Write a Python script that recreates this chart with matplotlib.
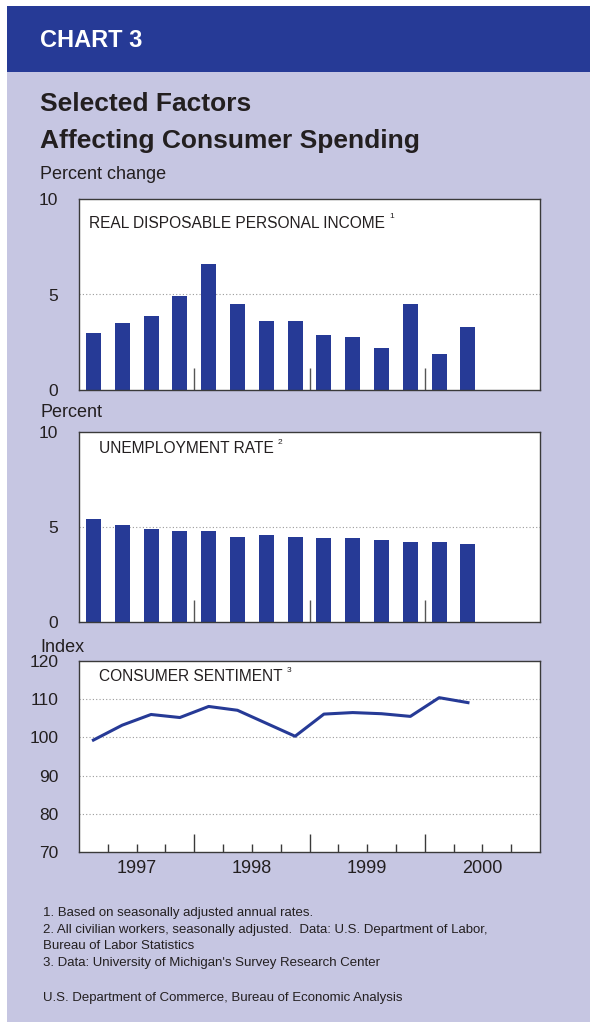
import matplotlib
matplotlib.use('Agg')
import matplotlib.pyplot as plt
from matplotlib import font_manager
from matplotlib.patches import Rectangle
import numpy as np

# Quarterly data, 1997:I - 2000:II
QUARTERS = ["97Q1", "97Q2", "97Q3", "97Q4", "98Q1", "98Q2", "98Q3", "98Q4",
            "99Q1", "99Q2", "99Q3", "99Q4", "00Q1", "00Q2"]
INCOME = [3.0, 3.5, 3.9, 4.9, 6.6, 4.5, 3.6, 3.6, 2.9, 2.8, 2.2, 4.5, 1.9, 3.3]
UNEMP = [5.4, 5.1, 4.9, 4.8, 4.8, 4.5, 4.6, 4.5, 4.4, 4.4, 4.3, 4.2, 4.2, 4.1]
SENTIMENT = [99.3, 103.2, 106.0, 105.2, 108.1, 107.1, 103.7, 100.3,
             106.1, 106.5, 106.2, 105.5, 110.4, 109.1]
YEARS = ["1997", "1998", "1999", "2000"]

BLUE = '#263A96'
LAVENDER = '#C6C6E2'
TEXT = '#231F20'

names = {f.name for f in font_manager.fontManager.ttflist}
NARROW = 'Liberation Sans Narrow' if 'Liberation Sans Narrow' in names else 'Liberation Sans'
plt.rcParams['font.family'] = [NARROW, 'DejaVu Sans']

W, H = 590, 1022
fig = plt.figure(figsize=(W / 100, H / 100), dpi=100)
fig.patch.set_facecolor('white')


def fx(x):
    return x / W


def fy(y):
    return 1 - y / H


# background panel and header band
fig.patches.append(Rectangle((fx(7), 0), 1 - fx(7), fy(6), transform=fig.transFigure,
                             facecolor=LAVENDER, edgecolor='none', zorder=-2))
fig.patches.append(Rectangle((fx(7), fy(72.5)), 1 - fx(7), fy(6) - fy(72.5),
                             transform=fig.transFigure, facecolor=BLUE,
                             edgecolor='none', zorder=-1))

fig.text(fx(40), fy(47), "CHART 3", color='white', fontsize=17, fontweight='bold',
         va='baseline')
fig.text(fx(40), fy(111), "Selected Factors", color=TEXT, fontsize=19,
         fontweight='bold', va='baseline')
fig.text(fx(40), fy(148), "Affecting Consumer Spending", color=TEXT, fontsize=19,
         fontweight='bold', va='baseline')

x = np.arange(len(QUARTERS)) + 0.5


def make_axes(top, bottom):
    ax = fig.add_axes([fx(79), fy(bottom), fx(540) - fx(79), fy(top) - fy(bottom)])
    ax.set_facecolor('white')
    for s in ax.spines.values():
        s.set_color('#3a3a3a')
        s.set_linewidth(1.0)
    ax.set_xlim(0, 16)
    ax.tick_params(axis='y', length=0, pad=15, labelsize=12.5, labelcolor=TEXT)
    return ax


def grid(ax, levels):
    for v in levels:
        ax.axhline(v, color='#9a9a9a', lw=0.8, ls=(0, (1, 2)), zorder=0.5)


def panel_label(xpix, ybase, text, sup):
    t = fig.text(fx(xpix), fy(ybase), text, fontsize=11.2, color=TEXT, va='baseline')
    fig.canvas.draw()
    bb = t.get_window_extent()
    fig.text(bb.x1 / W + fx(4), fy(ybase - 9), sup, fontsize=6, color=TEXT,
             va='baseline')


# Real disposable personal income
ax1 = make_axes(199, 390)
grid(ax1, [5])
ax1.bar(x, INCOME, width=0.52, color=BLUE, zorder=2)
ax1.set_ylim(0, 10)
ax1.set_yticks([0, 5, 10])
ax1.set_xticks([4, 8, 12])
ax1.tick_params(axis='x', direction='in', length=16, width=1, color='#555555',
                labelbottom=False)
fig.text(fx(40), fy(179), "Percent change", fontsize=13, color=TEXT, va='baseline')
panel_label(89, 227.5, "REAL DISPOSABLE PERSONAL INCOME", "1")

# Unemployment rate
ax2 = make_axes(432, 622)
grid(ax2, [5])
ax2.bar(x, UNEMP, width=0.52, color=BLUE, zorder=2)
ax2.set_ylim(0, 10)
ax2.set_yticks([0, 5, 10])
ax2.set_xticks([4, 8, 12])
ax2.tick_params(axis='x', direction='in', length=16, width=1, color='#555555',
                labelbottom=False)
fig.text(fx(40), fy(417), "Percent", fontsize=13, color=TEXT, va='baseline')
panel_label(99, 453, "UNEMPLOYMENT RATE", "2")

# Consumer sentiment
ax3 = make_axes(661, 852)
grid(ax3, [80, 90, 100, 110])
ax3.plot(x, SENTIMENT, color=BLUE, lw=2.2, zorder=3)
ax3.set_ylim(70, 120)
ax3.set_yticks([70, 80, 90, 100, 110, 120])
ax3.set_xticks([4, 8, 12])
ax3.set_xticks([q for q in range(1, 16) if q % 4], minor=True)
ax3.tick_params(axis='x', which='major', direction='in', length=13, width=1,
                color='#3a3a3a', labelbottom=False)
ax3.tick_params(axis='x', which='minor', direction='in', length=6, width=1,
                color='#3a3a3a')
for i, yr in enumerate(YEARS):
    ax3.text(4 * i + 2, -0.04, yr, transform=ax3.get_xaxis_transform(),
             ha='center', va='top', fontsize=13, color=TEXT)
fig.text(fx(40), fy(652), "Index", fontsize=13, color=TEXT, va='baseline')
panel_label(99, 681, "CONSUMER SENTIMENT", "3")

notes = ["1. Based on seasonally adjusted annual rates.",
         "2. All civilian workers, seasonally adjusted.  Data: U.S. Department of Labor,",
         "Bureau of Labor Statistics",
         "3. Data: University of Michigan's Survey Research Center"]
for i, line in enumerate(notes):
    fig.text(fx(43), fy(916 + 16.5 * i), line, fontsize=9.5, color=TEXT, va='baseline')
fig.text(fx(43), fy(1001), "U.S. Department of Commerce, Bureau of Economic Analysis",
         fontsize=9.5, color=TEXT, va='baseline')

fig.savefig('out.png', dpi=100, facecolor=fig.get_facecolor())
